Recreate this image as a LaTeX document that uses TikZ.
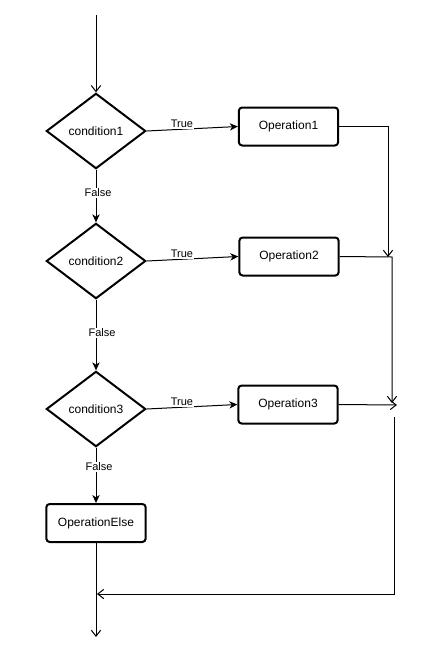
\documentclass[tikz,border=0pt]{standalone}
\usepackage{fontspec}
\setmainfont{Liberation Sans}
\usetikzlibrary{shapes.geometric,arrows.meta}

\tikzset{
  decision/.style={shape=diamond, draw, line width=1.5pt, aspect=1.316,
    minimum width=74.5pt, minimum height=56.5pt, inner sep=0pt, font=\fontsize{9}{11}\selectfont},
  opbox/.style={draw, line width=1.5pt, rounded corners=2.5pt,
    minimum width=74.5pt, minimum height=28.5pt, inner sep=1pt, font=\fontsize{9}{11}\selectfont},
  flow/.style={line width=0.75pt, -{Stealth[length=6pt,width=5.5pt,inset=1.8pt]}},
  mergeline/.style={line width=0.75pt, -{Straight Barb[length=4.5pt,width=7pt,line width=0.75pt]}},
  lbl/.style={fill=white, inner sep=0.6pt, font=\fontsize{8.25}{10}\selectfont}
}

\begin{document}
\begin{tikzpicture}[x=0.75pt, y=-0.75pt]
  \useasboundingbox (0,0) rectangle (422,665);

  % decisions and operations
  \node[decision] (d1) at (96,131) {condition1};
  \node[decision] (d2) at (96,261) {condition2};
  \node[decision] (d3) at (96,409) {condition3};
  \node[opbox] (op1) at (288.5,126.5) {Operation1};
  \node[opbox] (op2) at (289,256.5) {Operation2};
  \node[opbox] (op3) at (288,404.5) {Operation3};
  \node[opbox] (else) at (96,523) {OperationElse};

  % loose ends of the merge lines
  \coordinate (start) at (96,15);
  \coordinate (m1) at (388,257);
  \coordinate (m2) at (392,403);
  \coordinate (m3) at (397,405);
  \coordinate (r0) at (394,417);
  \coordinate (r1) at (97,594);
  \coordinate (finish) at (96,637);

  % entry
  \draw[mergeline] (start) -- (d1.north);

  % true branches
  \draw[flow] (d1.east) -- (op1.west);
  \node[lbl] (t1) at (182,124) {True};
  \draw[flow] (d2.east) -- (op2.west);
  \node[lbl] (t2) at (182,254) {True};
  \draw[flow] (d3.east) -- (op3.west);
  \node[lbl] (t3) at (182,402) {True};

  % false branches
  \draw[flow] (d1.south) -- (d2.north);
  \node[lbl] (f1) at (98,193) {False};
  \draw[flow] (d2.south) -- (d3.north);
  \node[lbl] (f2) at (102,333) {False};
  \draw[flow] (d3.south) -- (else.north);
  \node[lbl] (f3) at (99,467) {False};

  % merging on the right
  \draw[mergeline] (op1.east) -| (m1);
  \draw[mergeline] (op2.east) -- (392,257) -- (m2);
  \draw[mergeline] (op3.east) -- (m3);
  \draw[mergeline] (r0) |- (r1);

  % exit
  \draw[mergeline] (else.south) -- (finish);
\end{tikzpicture}
\end{document}
